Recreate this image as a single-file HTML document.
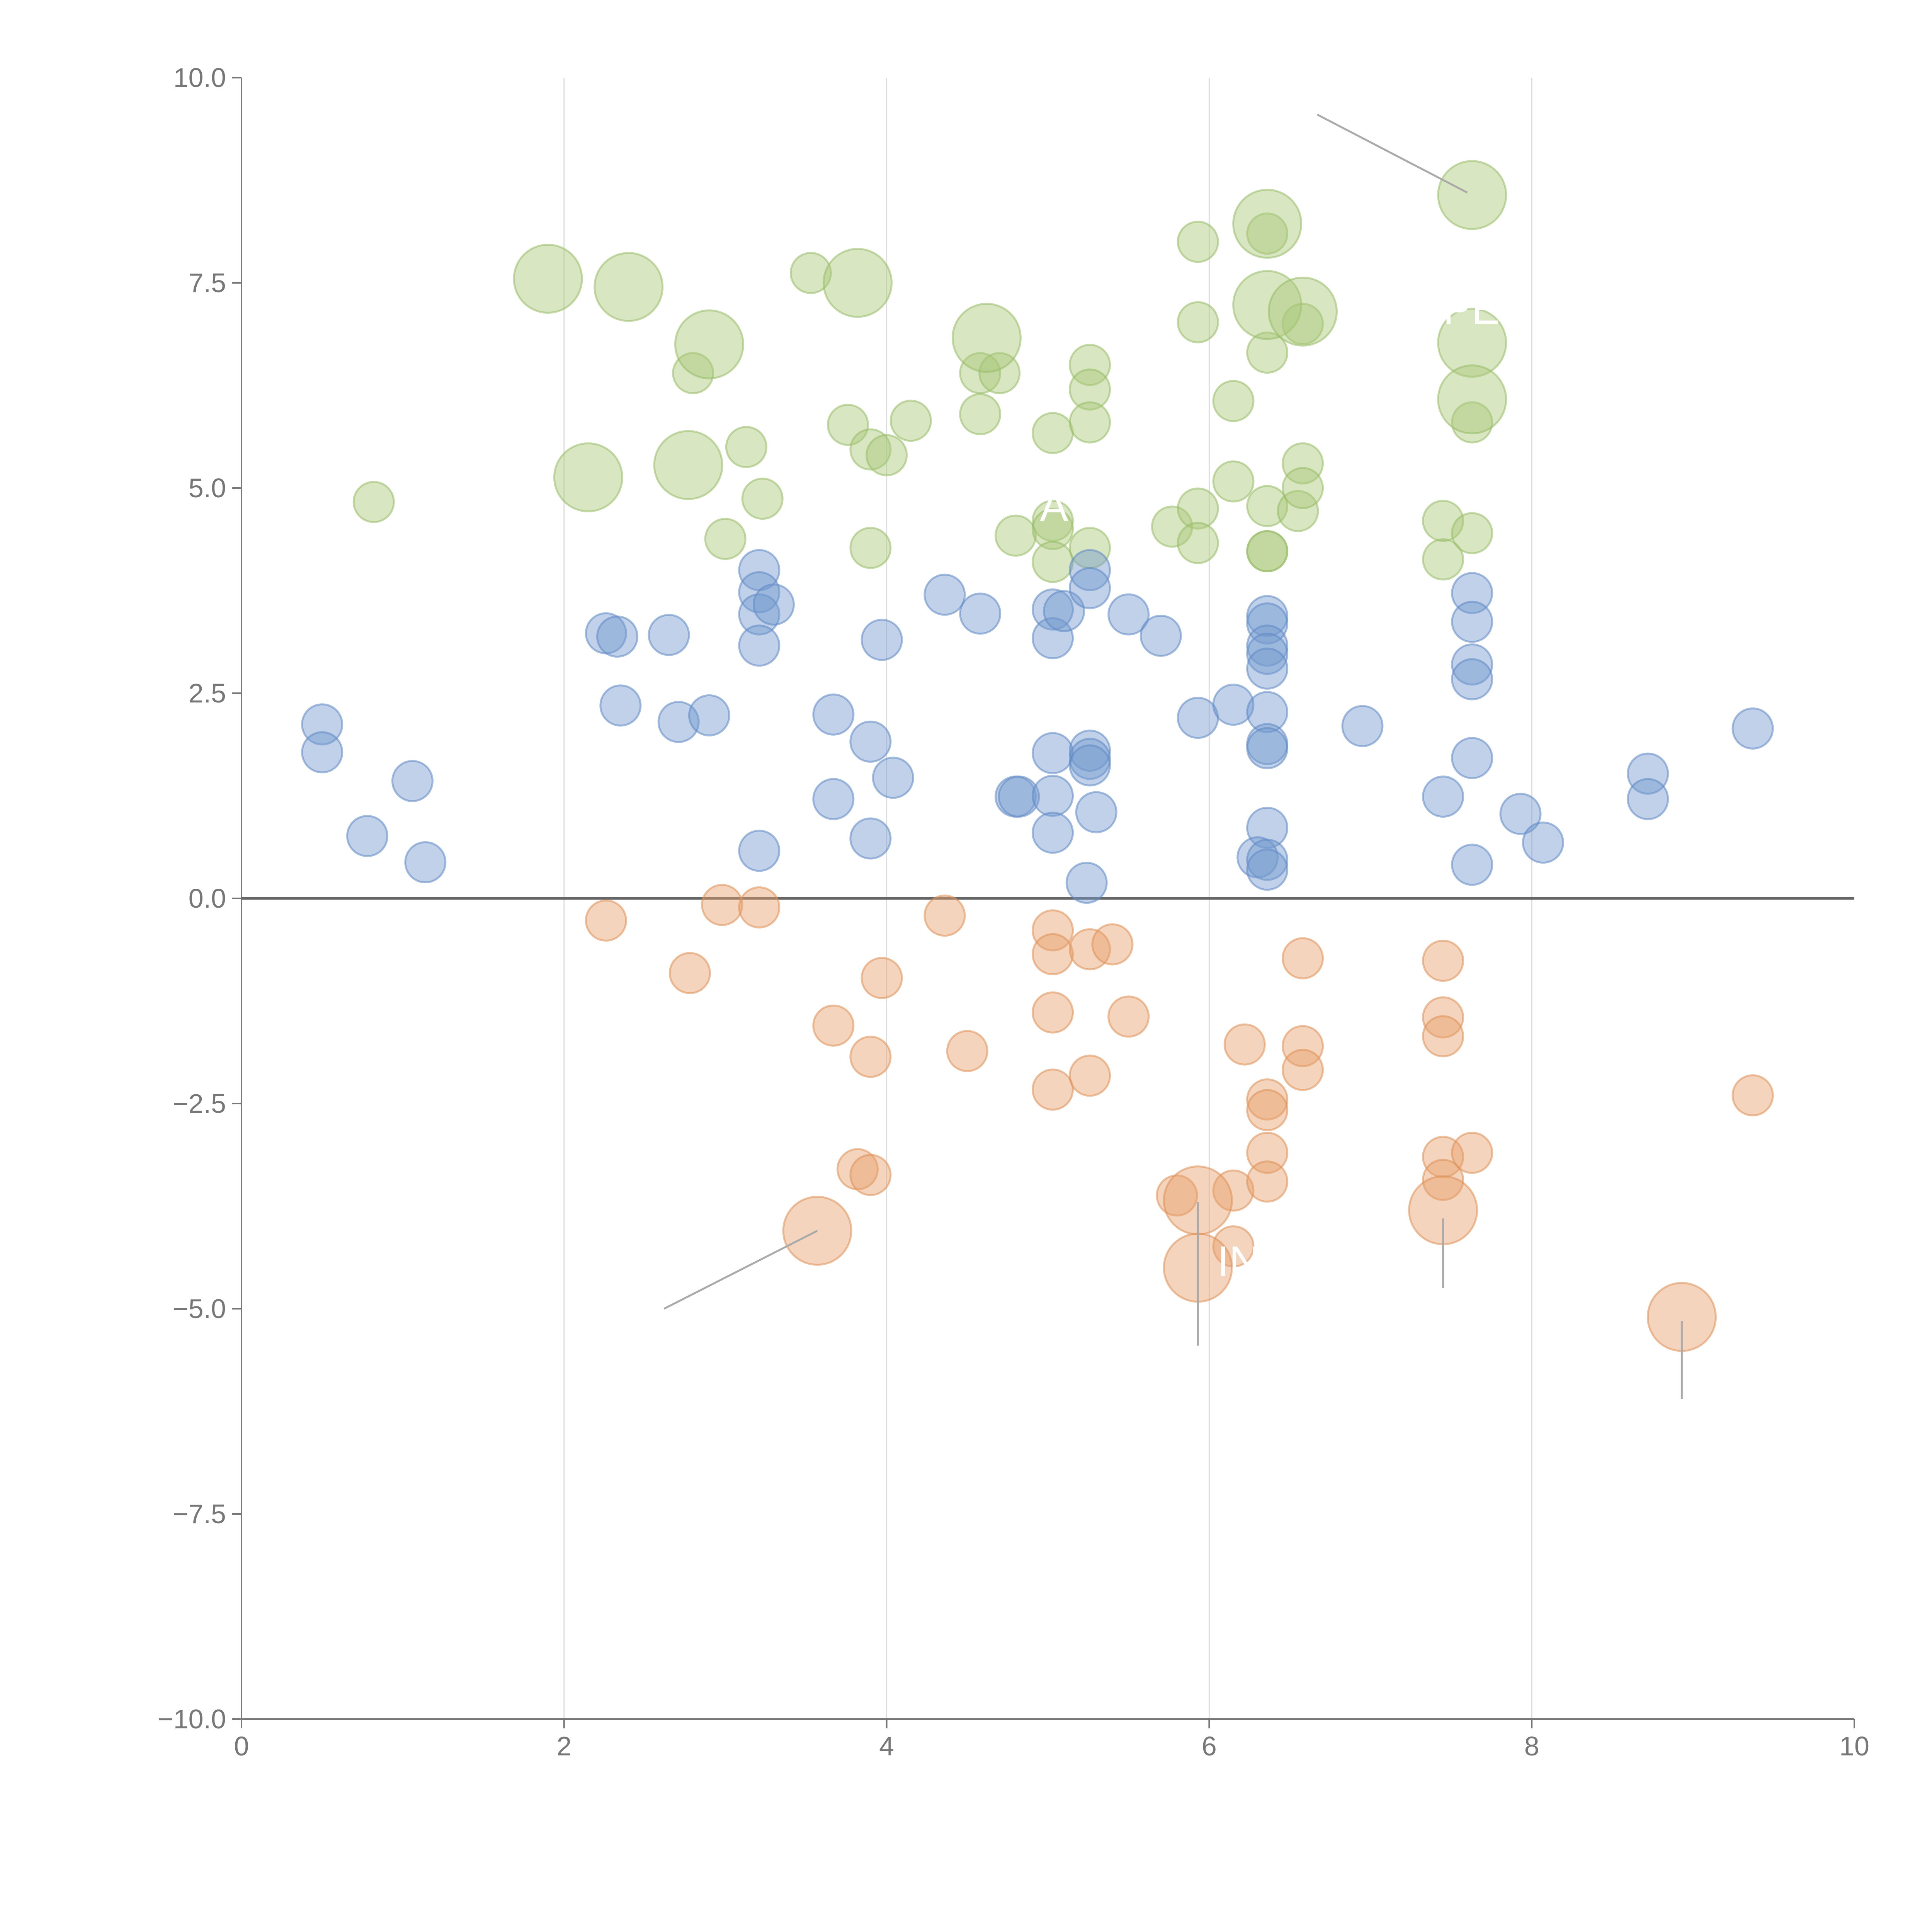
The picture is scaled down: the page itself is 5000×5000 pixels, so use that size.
<!DOCTYPE html>
<html><head><meta charset="utf-8"><style>
html,body{margin:0;padding:0;background:#fff}
svg{display:block}
text{font-family:"Liberation Sans",sans-serif}
</style></head><body>
<svg id="chart" width="5000" height="5000" viewBox="0 0 5000 5000">
<g id="grid"></g>
<g id="axes"></g>
<g id="marks"></g>
<g id="notes"></g>
</svg>
<script>
const xTicks=[0,2,4,6,8,10];
const yTicks=[-10,-7.5,-5,-2.5,0,2.5,5,7.5,10];
const greenSmall=[[0.82,4.83],[3.0,4.38],[2.8,6.4],[3.13,5.5],[3.23,4.87],[3.53,7.62],[3.76,5.77],[3.9,5.47],[3.9,4.27],[4.0,5.4],[4.15,5.82],[4.58,6.4],[4.58,5.9],[4.7,6.4],[4.8,4.42],[5.03,5.67],[5.03,4.6],[5.03,4.5],[5.03,4.1],[5.26,6.5],[5.26,6.2],[5.26,5.8],[5.26,4.27],[5.77,4.53],[5.93,8.0],[5.93,7.02],[5.93,4.75],[5.93,4.33],[6.15,6.06],[6.15,5.08],[6.36,8.1],[6.36,6.65],[6.36,4.78],[6.36,4.23],[6.36,4.23],[6.55,4.72],[6.58,5.3],[6.58,5.0],[6.58,7.0],[7.45,4.6],[7.45,4.13],[7.63,4.45],[7.63,5.8]];
const greenBig=[[1.9,7.55],[2.4,7.45],[2.9,6.75],[3.82,7.5],[4.62,6.83],[2.15,5.13],[2.77,5.28],[6.36,8.22],[6.36,7.23],[6.58,7.15],[7.63,8.57],[7.63,6.77],[7.63,6.08]];
const blue=[[0.5,2.12],[0.5,1.78],[0.78,0.76],[1.06,1.43],[1.14,0.44],[2.26,3.23],[2.33,3.19],[2.35,2.35],[2.65,3.21],[2.71,2.15],[2.9,2.23],[3.21,4.0],[3.21,3.73],[3.21,3.46],[3.21,3.08],[3.3,3.58],[3.21,0.58],[3.67,2.24],[3.67,1.21],[3.9,1.91],[3.9,0.73],[3.97,3.15],[4.04,1.47],[4.36,3.7],[4.58,3.47],[4.8,1.24],[4.82,1.24],[5.03,3.52],[5.03,3.17],[5.1,3.5],[5.03,1.77],[5.03,1.25],[5.03,0.8],[5.26,4.0],[5.26,3.78],[5.26,1.8],[5.26,1.7],[5.26,1.62],[5.3,1.05],[5.24,0.19],[5.5,3.46],[5.7,3.2],[5.93,2.2],[6.15,2.36],[6.36,3.44],[6.36,3.35],[6.36,3.08],[6.36,2.98],[6.36,2.8],[6.36,2.27],[6.36,1.88],[6.36,1.83],[6.36,0.86],[6.3,0.5],[6.36,0.47],[6.36,0.35],[6.95,2.1],[7.45,1.24],[7.63,3.72],[7.63,3.37],[7.63,2.85],[7.63,2.67],[7.63,1.71],[7.63,0.41],[7.93,1.03],[8.07,0.68],[8.72,1.52],[8.72,1.21],[9.37,2.07]];
const orange=[[2.26,-0.27],[2.98,-0.08],[3.21,-0.11],[2.78,-0.91],[3.67,-1.55],[3.9,-1.93],[3.97,-0.97],[4.36,-0.21],[4.5,-1.86],[5.03,-0.39],[5.03,-0.68],[5.03,-1.39],[5.03,-2.33],[5.26,-0.62],[5.26,-2.16],[5.4,-0.56],[5.5,-1.44],[6.22,-1.78],[5.8,-3.62],[6.15,-3.56],[6.15,-4.24],[6.36,-2.45],[6.36,-2.58],[6.36,-3.1],[6.36,-3.45],[6.58,-0.73],[6.58,-1.8],[6.58,-2.09],[7.45,-0.76],[7.45,-1.45],[7.45,-1.68],[7.45,-3.15],[7.45,-3.43],[7.63,-3.1],[9.37,-2.4],[3.82,-3.3],[3.9,-3.37]];
const orangeBig=[[3.57,-4.05],[5.93,-3.68],[5.93,-4.5],[7.45,-3.8],[8.93,-5.1]];
const leaders=[[3.57,-4.05,2.62,-5.0],[7.6,8.6,6.67,9.55],[5.93,-3.7,5.93,-5.45],[7.45,-3.9,7.45,-4.75],[8.93,-5.15,8.93,-6.1]];

const X0=625,X1=4799,Y0=201,Y1=4449;
const sx=v=>X0+(v-0)/10*(X1-X0);
const sy=v=>Y0+(10-v)/20*(Y1-Y0);
const NS='http://www.w3.org/2000/svg';
function mk(p,tag,at){const e=document.createElementNS(NS,tag);for(const k in at)e.setAttribute(k,at[k]);p.appendChild(e);return e;}
const grid=document.getElementById('grid'),axes=document.getElementById('axes'),marks=document.getElementById('marks'),notes=document.getElementById('notes');

xTicks.forEach(t=>{
  if(t>0&&t<10){const l=mk(grid,'line',{x1:sx(t),x2:sx(t),y1:Y0,y2:Y1,stroke:'#dddddd','stroke-width':3});
  
  }
  const tk=mk(axes,'line',{x1:sx(t),x2:sx(t),y1:Y1,y2:Y1+24,stroke:'#777','stroke-width':4});
  
  
  const tx=mk(axes,'text',{x:sx(t),y:Y1+94,'text-anchor':'middle','font-size':70,fill:'#777'});
  tx.textContent=t;
  
  
});
yTicks.forEach(t=>{
  const tk=mk(axes,'line',{x1:X0-24,x2:X0,y1:sy(t),y2:sy(t),stroke:'#777','stroke-width':4});
  
  
  const tx=mk(axes,'text',{x:X0-40,y:sy(t)+24,'text-anchor':'end','font-size':70,fill:'#777'});
  tx.textContent=(t<0?'\u2212':'')+Math.abs(t).toFixed(1);
  
  
});
let a=mk(axes,'line',{x1:X0,x2:X0,y1:Y0,y2:Y1,stroke:'#777','stroke-width':4});


a=mk(axes,'line',{x1:X0,x2:X1,y1:Y1,y2:Y1,stroke:'#777','stroke-width':4});


a=mk(axes,'line',{x1:X0,x2:X1,y1:sy(0),y2:sy(0),stroke:'#666','stroke-width':7});



function draw(arr,r,fill,stroke,name){
  arr.forEach(d=>{
    const c=mk(marks,'circle',{cx:sx(d[0]),cy:sy(d[1]),r:r,fill:fill,'fill-opacity':0.45,stroke:stroke,'stroke-opacity':0.55,'stroke-width':5});
    
    
  });
}
draw(greenSmall,52,'#a8c878','#98bb66','green-bubble');
draw(greenBig,88,'#a8c878','#98bb66','green-bubble-large');
draw(blue,52,'#7399cf','#5f88c4','blue-bubble');
draw(orange,52,'#e6a06a','#df8f55','orange-bubble');
draw(orangeBig,88,'#e6a06a','#df8f55','orange-bubble-large');

leaders.forEach(l=>{
  const e=mk(notes,'line',{x1:sx(l[0]),y1:sy(l[1]),x2:sx(l[2]),y2:sy(l[3]),stroke:'#aaa','stroke-width':5});
  
  
});
[['PE',7.45,7.0],['IN',6.05,-4.6],['A',4.95,4.6]].forEach(t=>{
  const e=mk(notes,'text',{x:sx(t[1]),y:sy(t[2]),'font-size':110,fill:'#fff'});
  e.textContent=t[0];
  
  
});
</script>
</body></html>
